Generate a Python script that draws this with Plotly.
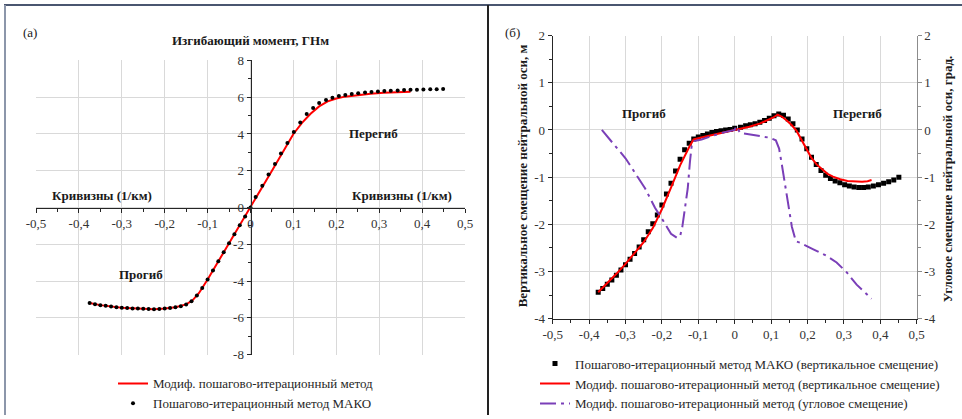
import plotly.graph_objects as go

W, H = 962, 419
FONT = "Liberation Serif, Times New Roman, serif"

# ---------------- Panel (а): bending moment vs curvature ----------------
mako_a_x = [-0.375, -0.3625, -0.35, -0.3375, -0.325, -0.3125, -0.3, -0.2875, -0.275, -0.2625,
            -0.25, -0.2375, -0.225, -0.2125, -0.2, -0.1875, -0.175, -0.1625, -0.15, -0.1375,
            -0.125, -0.1125, -0.1, -0.0875, -0.075, -0.0625, -0.05, -0.0375, -0.025, -0.0125,
            0.0, 0.012, 0.0275, 0.042, 0.057, 0.071, 0.086, 0.101, 0.116, 0.131, 0.146, 0.160,
            0.176, 0.191, 0.206, 0.221, 0.236, 0.251, 0.267, 0.282, 0.297, 0.312, 0.327, 0.343,
            0.358, 0.373, 0.388, 0.403, 0.419, 0.434, 0.449]
mako_a_y = [-5.20, -5.26, -5.31, -5.35, -5.39, -5.42, -5.45, -5.47, -5.49, -5.50,
            -5.51, -5.52, -5.53, -5.52, -5.50, -5.47, -5.43, -5.37, -5.27, -5.10,
            -4.78, -4.38, -3.92, -3.42, -2.92, -2.43, -1.94, -1.46, -0.97, -0.49,
            0.0, 0.57, 1.18, 1.80, 2.36, 2.94, 3.51, 4.10, 4.62, 5.09, 5.41, 5.68,
            5.85, 5.97, 6.06, 6.12, 6.17, 6.21, 6.25, 6.28, 6.31, 6.33, 6.35,
            6.37, 6.39, 6.40, 6.41, 6.42, 6.43, 6.43, 6.44]

mod_a_x = [-0.375, -0.35, -0.3, -0.25, -0.225, -0.2, -0.175, -0.15, -0.135, -0.12, -0.1,
           -0.05, 0.0, 0.05, 0.1, 0.12, 0.14, 0.16, 0.18, 0.2, 0.22, 0.25, 0.28, 0.31,
           0.34, 0.373]
mod_a_y = [-5.20, -5.31, -5.45, -5.51, -5.53, -5.50, -5.43, -5.27, -5.05, -4.65, -3.92,
           -1.94, 0.0, 2.0, 4.0, 4.6, 5.1, 5.5, 5.77, 5.93, 6.03, 6.12, 6.19, 6.24,
           6.28, 6.30]

# ---------------- Panel (б): displacements vs curvature ----------------
mako_b_x = [-0.375, -0.3625, -0.35, -0.3375, -0.325, -0.3125, -0.3, -0.2875, -0.275, -0.2625,
            -0.25, -0.2375, -0.225, -0.2125, -0.2, -0.1875, -0.175, -0.1625, -0.15, -0.1375,
            -0.125, -0.1125, -0.1, -0.0875, -0.075, -0.0625, -0.05, -0.0375, -0.025, -0.0125,
            0.0, 0.016, 0.030, 0.043, 0.056, 0.069, 0.082, 0.095, 0.108, 0.121, 0.134, 0.147,
            0.160, 0.172, 0.185, 0.198, 0.211, 0.224, 0.237, 0.250, 0.263, 0.276, 0.289,
            0.302, 0.315, 0.328, 0.341, 0.354, 0.367, 0.381, 0.395, 0.409, 0.423, 0.437, 0.451]
mako_b_y = [-3.44, -3.36, -3.27, -3.18, -3.08, -2.97, -2.86, -2.74, -2.62, -2.48,
            -2.33, -2.16, -1.99, -1.80, -1.59, -1.36, -1.13, -0.87, -0.62, -0.42,
            -0.28, -0.19, -0.15, -0.115, -0.085, -0.055, -0.03, -0.015, 0.0, 0.01,
            0.035, 0.06, 0.09, 0.11, 0.13, 0.165, 0.20, 0.25, 0.30, 0.34, 0.31, 0.235,
            0.13, 0.0, -0.19, -0.40, -0.58, -0.73, -0.86, -0.96, -1.03, -1.08, -1.12,
            -1.16, -1.19, -1.21, -1.22, -1.22, -1.21, -1.19, -1.16, -1.13, -1.10, -1.06, -1.00]

mod_b_x = [-0.375, -0.35, -0.325, -0.3, -0.275, -0.25, -0.225, -0.2, -0.175, -0.15, -0.125,
           -0.113, -0.08, -0.04, 0.0, 0.04, 0.07, 0.09, 0.105, 0.118, 0.13, 0.143, 0.157,
           0.17, 0.183, 0.195, 0.21, 0.225, 0.24, 0.255, 0.27, 0.29, 0.31, 0.33, 0.35,
           0.365, 0.376]
mod_b_y = [-3.44, -3.25, -3.05, -2.84, -2.61, -2.38, -2.08, -1.68, -1.22, -0.75, -0.36,
           -0.20, -0.14, -0.07, 0.0, 0.07, 0.14, 0.20, 0.26, 0.325, 0.28, 0.20, 0.10,
           -0.02, -0.20, -0.38, -0.58, -0.73, -0.84, -0.93, -0.99, -1.045, -1.08, -1.095,
           -1.097, -1.085, -1.06]

ang_b_x = [-0.365, -0.30, -0.246, -0.219, -0.196, -0.175, -0.159, -0.15, -0.144, -0.137,
           -0.129, -0.123, -0.118, -0.111, -0.091, -0.063, -0.027, 0.0, 0.004, 0.015,
           0.042, 0.069, 0.097, 0.113, 0.122, 0.129, 0.138, 0.147, 0.157, 0.168, 0.179,
           0.216, 0.253, 0.28, 0.308, 0.335, 0.376]
ang_b_y = [0.0, -0.60, -1.24, -1.65, -1.93, -2.20, -2.285, -2.25, -2.06, -1.65,
           -1.24, -0.675, -0.325, -0.235, -0.20, -0.13, -0.045, 0.0, 0.08, -0.06,
           -0.094, -0.115, -0.165, -0.22, -0.395, -0.71, -1.13, -1.62, -2.05, -2.36, -2.39,
           -2.53, -2.67, -2.81, -3.02, -3.28, -3.58]

x_tickvals = [-0.5, -0.4, -0.3, -0.2, -0.1, 0.0, 0.1, 0.2, 0.3, 0.4, 0.5]
x_ticktext = ["-0,5", "-0,4", "-0,3", "-0,2", "-0,1", "0", "0,1", "0,2", "0,3", "0,4", "0,5"]
ya_tickvals = [-8, -6, -4, -2, 0, 2, 4, 6, 8]
ya_ticktext = ["-8", "-6", "-4", "-2", "0", "2", "4", "6", "8"]
yb_tickvals = [-4, -3, -2, -1, 0, 1, 2]
yb_ticktext = ["-4", "-3", "-2", "-1", "0", "1", "2"]

legend_a = ["Модиф. пошагово-итерационный метод", "Пошагово-итерационный метод МАКО"]
legend_b = ["Пошагово-итерационный метод МАКО (вертикальное смещение)",
            "Модиф. пошагово-итерационный метод (вертикальное смещение)",
            "Модиф. пошагово-итерационный метод (угловое смещение)"]


def px(x):
    return x / W


def py(y):
    return (H - y) / H


TICK_FONT = dict(family=FONT, size=13, color="#333333")
GRID = "#d9d9d9"
AX = "#262626"

fig = go.Figure()

fig.add_trace(go.Scatter(x=mod_a_x, y=mod_a_y, mode="lines", name=legend_a[0],
                         line=dict(color="#ff0000", width=2), xaxis="x", yaxis="y",
                         legend="legend"))
fig.add_trace(go.Scatter(x=mako_a_x, y=mako_a_y, mode="markers", name=legend_a[1],
                         marker=dict(color="#000000", size=4, symbol="circle"),
                         xaxis="x", yaxis="y", legend="legend"))

fig.add_trace(go.Scatter(x=mako_b_x, y=mako_b_y, mode="markers", name=legend_b[0],
                         marker=dict(color="#000000", size=5, symbol="square"),
                         xaxis="x2", yaxis="y2", legend="legend2"))
fig.add_trace(go.Scatter(x=mod_b_x, y=mod_b_y, mode="lines", name=legend_b[1],
                         line=dict(color="#ff0000", width=2), xaxis="x2", yaxis="y2",
                         legend="legend2"))
fig.add_trace(go.Scatter(x=ang_b_x, y=ang_b_y, mode="lines", name=legend_b[2],
                         line=dict(color="#7a3fb8", width=2, dash="16px,5px,3px,5px"),
                         xaxis="x2", yaxis="y3", legend="legend2"))

common_x = dict(range=[-0.5, 0.5], tickmode="array", tickvals=x_tickvals, ticktext=x_ticktext,
                showgrid=True, gridcolor=GRID, gridwidth=1, zeroline=False, showline=True,
                linecolor=AX, linewidth=1, ticks="outside", ticklen=4, tickcolor=AX,
                tickfont=TICK_FONT, automargin=False,
                minor=dict(ticks="outside", ticklen=3, tickcolor=AX, tickmode="linear",
                           tick0=0, dtick=0.05, showgrid=False))

fig.update_layout(
    width=W, height=H,
    margin=dict(l=0, r=0, t=0, b=0),
    paper_bgcolor="white", plot_bgcolor="white",
    font=dict(family=FONT, size=13, color="#222222"),
    xaxis=dict(common_x, domain=[px(36), px(465)], anchor="free", position=py(209.5)),
    yaxis=dict(domain=[py(358), py(61)], range=[-8, 8], anchor="free", position=px(250.5),
               tickmode="array", tickvals=ya_tickvals, ticktext=ya_ticktext,
               showgrid=True, gridcolor=GRID, zeroline=False, showline=True,
               linecolor=AX, linewidth=1, ticks="outside", ticklen=4, tickcolor=AX,
               tickfont=TICK_FONT, automargin=False,
               minor=dict(ticks="outside", ticklen=3, tickcolor=AX, tickmode="linear",
                          tick0=0, dtick=1, showgrid=False)),
    xaxis2=dict(common_x, domain=[px(552.7), px(916.7)], anchor="y2"),
    yaxis2=dict(domain=[py(321.7), py(36)], range=[-4, 2], anchor="x2",
                tickmode="array", tickvals=yb_tickvals, ticktext=yb_ticktext,
                showgrid=True, gridcolor=GRID, zeroline=False, showline=True,
                linecolor=AX, linewidth=1, ticks="outside", ticklen=4, tickcolor=AX,
                tickfont=TICK_FONT, automargin=False,
                minor=dict(ticks="outside", ticklen=3, tickcolor=AX, tickmode="linear",
                           tick0=0, dtick=0.5, showgrid=False)),
    yaxis3=dict(range=[-4, 2], overlaying="y2", anchor="x2", side="right",
                tickmode="array", tickvals=yb_tickvals, ticktext=yb_ticktext,
                showgrid=False, zeroline=False, showline=True,
                linecolor="#8c8c8c", linewidth=1, ticks="outside", ticklen=4,
                tickcolor="#8c8c8c", tickfont=TICK_FONT, automargin=False,
                minor=dict(ticks="outside", ticklen=3, tickcolor="#8c8c8c", tickmode="linear",
                           tick0=0, dtick=0.5, showgrid=False)),
    legend=dict(x=px(113), y=py(372), xanchor="left", yanchor="top",
                font=dict(family=FONT, size=13, color="#262626"),
                bgcolor="rgba(0,0,0,0)", itemwidth=30, tracegroupgap=0),
    legend2=dict(x=px(535), y=py(352), xanchor="left", yanchor="top",
                 font=dict(family=FONT, size=13, color="#262626"),
                 bgcolor="rgba(0,0,0,0)", itemwidth=30, tracegroupgap=0),
)

ann = []


def add_text(text, x, y, bold=False, angle=0, size=13, xanchor="center"):
    ann.append(dict(text=("<b>%s</b>" % text) if bold else text, x=px(x), y=py(y),
                    xref="paper", yref="paper", showarrow=False, textangle=angle,
                    xanchor=xanchor, yanchor="middle",
                    font=dict(family=FONT, size=size, color="#1a1a1a")))


add_text("(а)", 30, 33)
add_text("Изгибающий момент, ГНм", 250, 41, bold=True)
add_text("Перегиб", 373, 135, bold=True)
add_text("Кривизны (1/км)", 102, 197, bold=True)
add_text("Кривизны (1/км)", 402, 197, bold=True)
add_text("Прогиб", 141, 277, bold=True)
add_text("(б)", 512, 33)
add_text("Прогиб", 644, 115, bold=True)
add_text("Перегиб", 857, 115, bold=True)
add_text("Вертикальное смещение нейтральной оси, м", 522, 178, bold=True, angle=-90)
add_text("Угловое смещение нейтральной оси, град.", 947, 181, bold=True, angle=-90)

fig.update_layout(annotations=ann)

shapes = [
    dict(type="line", xref="paper", yref="paper", x0=px(4), x1=1, y0=py(5), y1=py(5),
         line=dict(color="#4a5670", width=2)),
    dict(type="line", xref="paper", yref="paper", x0=px(5), x1=px(5), y0=py(5), y1=0,
         line=dict(color="#8c96aa", width=2)),
    dict(type="line", xref="paper", yref="paper", x0=px(488), x1=px(488), y0=py(5), y1=0,
         line=dict(color="#222222", width=2)),
]
fig.update_layout(shapes=shapes)

fig.write_html("out.html",
               config={"displayModeBar": False},
               post_script="document.body.style.margin='0px';"
                           "document.body.style.overflow='hidden';")
